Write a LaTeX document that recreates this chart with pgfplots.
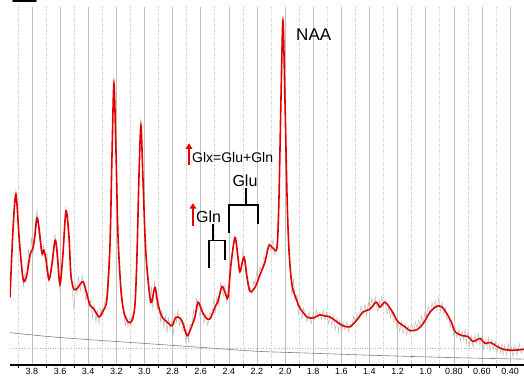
\documentclass[border=0pt]{standalone}
\usepackage{pgfplots}
\pgfplotsset{compat=1.18}
\usepackage{fontspec}
\setmainfont{Liberation Sans}
\usetikzlibrary{calc,arrows.meta}
\definecolor{specred}{RGB}{228,0,0}
\begin{document}
\begin{tikzpicture}
\begin{axis}[
  scale only axis, width=514pt, height=358pt,
  x dir=reverse, xmin=0.301, xmax=3.956, ymin=0, ymax=365,
  axis x line*=bottom, axis y line=none,
  xtick={0.4,0.6,0.8,1.0,1.2,1.4,1.6,1.8,2.0,2.2,2.4,2.6,2.8,3.0,3.2,3.4,3.6,3.8},
  xticklabels={0.40,0.60,0.80,1.0,1.2,1.4,1.6,1.8,2.0,2.2,2.4,2.6,2.8,3.0,3.2,3.4,3.6,3.8},
  minor xtick={0.5,0.7,0.9,1.1,1.3,1.5,1.7,1.9,2.1,2.3,2.5,2.7,2.9,3.1,3.3,3.5,3.7,3.9},
  xmajorgrids, xminorgrids,
  major grid style={gray!50, line width=0.6pt},
  minor grid style={gray!45, dotted, line width=0.6pt},
  ticklabel style={font=\fontsize{9}{10}\selectfont},
  /pgf/number format/assume math mode=true,
  tick style={black, line width=0.6pt}, tick align=outside,
  major tick length=0pt, minor tick length=2.5pt,
  axis line style={black, line width=1.2pt},
]
\coordinate (SW) at (rel axis cs:0,0);
\coordinate (NE) at (rel axis cs:1,1);
\addplot[gray!60, dotted, line width=0.6pt] coordinates {(0.301,17) (3.956,17)};
\addplot[gray, line width=0.6pt, smooth] coordinates {
(3.956,33) (3.6,28) (3.0,22) (2.6,18) (2.2,14) (1.8,12) (1.4,10) (0.8,7.5) (0.301,6)};
% raw spectrum
\addplot[gray!55, line width=0.45pt] coordinates {
(3.956,72) (3.946,104) (3.935,140) (3.925,165) (3.914,178) (3.903,160) (3.892,125) (3.881,108)
(3.871,100) (3.860,80) (3.850,95) (3.836,86) (3.825,118) (3.814,104) (3.803,130) (3.793,112)
(3.779,142) (3.764,158) (3.750,132) (3.740,122) (3.729,110) (3.718,122) (3.705,106) (3.693,114)
(3.679,86) (3.668,96) (3.658,108) (3.647,118) (3.636,134) (3.625,112) (3.612,104) (3.601,76)
(3.590,100) (3.580,108) (3.569,138) (3.558,162) (3.547,145) (3.537,126) (3.523,98) (3.512,74)
(3.501,56) (3.490,82) (3.480,72) (3.470,90) (3.455,76) (3.443,92) (3.430,80) (3.418,66)
(3.405,74) (3.395,58) (3.384,66) (3.370,48) (3.359,62) (3.345,44) (3.333,56) (3.323,42)
(3.310,58) (3.295,50) (3.283,64) (3.270,70) (3.260,92) (3.245,124) (3.231,212) (3.217,292)
(3.203,222) (3.188,132) (3.175,92) (3.167,72) (3.155,60) (3.146,50) (3.135,40) (3.125,50)
(3.117,38) (3.105,48) (3.095,40) (3.089,52) (3.078,46) (3.067,66) (3.053,112) (3.039,192)
(3.025,252) (3.011,192) (2.996,128) (2.982,92) (2.970,76) (2.960,60) (2.950,80) (2.940,56)
(2.930,86) (2.920,70) (2.910,56) (2.898,66) (2.886,44) (2.875,56) (2.862,38) (2.850,50)
(2.840,32) (2.828,48) (2.818,36) (2.804,46) (2.795,30) (2.783,52) (2.772,44) (2.762,56)
(2.750,40) (2.740,48) (2.728,34) (2.716,42) (2.706,22) (2.698,36) (2.686,24) (2.676,42)
(2.665,38) (2.652,56) (2.641,44) (2.630,68) (2.619,60) (2.605,50) (2.591,60) (2.578,42)
(2.565,52) (2.550,40) (2.534,54) (2.520,50) (2.508,66) (2.495,54) (2.485,70) (2.470,60)
(2.460,84) (2.449,76) (2.436,70) (2.427,82) (2.415,64) (2.406,74) (2.395,90) (2.385,104)
(2.370,122) (2.356,130) (2.345,118) (2.335,104) (2.321,100) (2.310,96) (2.300,118) (2.292,110)
(2.280,94) (2.271,86) (2.260,76) (2.249,80) (2.235,72) (2.222,86) (2.214,82) (2.200,96)
(2.190,88) (2.178,100) (2.165,96) (2.150,112) (2.143,102) (2.130,118) (2.114,124) (2.100,116)
(2.086,128) (2.072,112) (2.057,126) (2.043,172) (2.029,272) (2.015,356) (2.001,272) (1.986,172)
(1.972,112) (1.962,98) (1.951,70) (1.940,88) (1.930,66) (1.915,72) (1.905,52) (1.894,62)
(1.880,46) (1.870,58) (1.856,52) (1.844,44) (1.830,54) (1.815,42) (1.801,52) (1.790,46)
(1.776,56) (1.764,48) (1.752,54) (1.740,46) (1.728,56) (1.716,46) (1.705,54) (1.690,42)
(1.681,52) (1.668,40) (1.655,50) (1.643,36) (1.631,48) (1.620,34) (1.610,46) (1.598,32)
(1.588,44) (1.575,36) (1.560,44) (1.548,34) (1.538,42) (1.525,38) (1.512,50) (1.500,44)
(1.489,52) (1.476,46) (1.460,60) (1.446,52) (1.432,62) (1.420,50) (1.408,64) (1.396,56)
(1.383,68) (1.370,60) (1.360,70) (1.353,62) (1.340,54) (1.330,66) (1.325,58) (1.312,70)
(1.300,60) (1.289,66) (1.275,52) (1.262,58) (1.250,48) (1.240,56) (1.228,44) (1.215,50)
(1.205,38) (1.197,46) (1.185,34) (1.172,44) (1.160,32) (1.147,42) (1.135,30) (1.125,40)
(1.112,32) (1.100,42) (1.085,34) (1.074,44) (1.062,38) (1.050,46) (1.040,40) (1.030,50)
(1.019,42) (1.005,54) (0.995,50) (0.982,60) (0.969,52) (0.955,64) (0.945,58) (0.932,66)
(0.920,56) (0.908,68) (0.896,54) (0.884,64) (0.872,52) (0.860,58) (0.848,46) (0.836,50)
(0.826,38) (0.813,46) (0.802,30) (0.791,38) (0.778,28) (0.765,36) (0.754,24) (0.742,34)
(0.730,26) (0.720,36) (0.710,22) (0.699,34) (0.688,20) (0.675,30) (0.663,18) (0.650,30)
(0.638,22) (0.625,32) (0.614,20) (0.600,30) (0.590,16) (0.578,26) (0.565,18) (0.555,28)
(0.542,14) (0.530,26) (0.518,16) (0.505,24) (0.493,12) (0.480,22) (0.468,12) (0.458,22)
(0.450,10) (0.438,20) (0.425,10) (0.412,22) (0.400,12) (0.390,18) (0.379,8) (0.365,20)
(0.350,10) (0.335,22) (0.320,12) (0.301,18)};
% fitted spectrum
\addplot[specred, line width=1.6pt, smooth, tension=0.5] coordinates {
(3.956,69) (3.935,137) (3.914,174) (3.892,132) (3.871,97) (3.857,85) (3.836,92) (3.814,112)
(3.793,119) (3.779,132) (3.764,150) (3.750,140) (3.729,114) (3.715,117) (3.700,107) (3.679,87)
(3.658,102) (3.636,127) (3.622,117) (3.601,82) (3.580,112) (3.558,157) (3.537,132) (3.523,92)
(3.501,77) (3.473,79) (3.437,85) (3.409,72) (3.387,61) (3.359,57) (3.323,49) (3.295,55)
(3.267,67) (3.245,122) (3.231,212) (3.217,287) (3.203,222) (3.188,132) (3.167,77) (3.146,54)
(3.117,44) (3.089,45) (3.067,62) (3.053,112) (3.039,192) (3.025,244) (3.011,192) (2.996,132)
(2.982,99) (2.954,64) (2.925,79) (2.904,62) (2.875,49) (2.840,44) (2.804,40) (2.783,47)
(2.762,49) (2.733,45) (2.698,30) (2.676,35) (2.641,49) (2.619,64) (2.591,55) (2.562,48)
(2.534,47) (2.498,59) (2.477,65) (2.449,80) (2.427,74) (2.406,69) (2.385,102) (2.356,130)
(2.335,110) (2.321,95) (2.292,110) (2.271,90) (2.249,75) (2.214,79) (2.178,92) (2.143,105)
(2.114,122) (2.086,119) (2.057,120) (2.043,172) (2.029,272) (2.015,351) (2.001,272) (1.986,172)
(1.972,117) (1.951,82) (1.915,65) (1.894,58) (1.844,49) (1.801,48) (1.752,51) (1.716,50)
(1.681,49) (1.631,44) (1.588,40) (1.538,39) (1.489,46) (1.446,54) (1.396,57) (1.353,64)
(1.325,59) (1.289,64) (1.240,55) (1.197,44) (1.147,39) (1.112,35) (1.062,36) (1.019,42)
(0.969,54) (0.920,60) (0.884,59) (0.848,52) (0.813,42) (0.791,34) (0.742,30) (0.699,29)
(0.663,24) (0.614,27) (0.578,22) (0.542,23) (0.493,19) (0.450,16) (0.379,15) (0.301,16)};
% annotations
\node[anchor=west, inner sep=0pt, font=\fontsize{17}{17}\selectfont] at (axis cs:1.922,337) {NAA};
\draw[specred, line width=2.2pt, -{Triangle[length=5.5pt,width=6.5pt]}] (axis cs:2.683,204) -- (axis cs:2.683,226);
\node[anchor=west, inner sep=0pt, font=\fontsize{14}{14}\selectfont] at (axis cs:2.662,212) {Glx=Glu+Gln};
\node[inner sep=0pt, font=\fontsize{16}{16}\selectfont] at (axis cs:2.285,188) {Glu};
\draw[specred, line width=2.2pt, -{Triangle[length=5.5pt,width=6.5pt]}] (axis cs:2.655,142) -- (axis cs:2.655,165);
\node[anchor=west, inner sep=0pt, font=\fontsize{16}{16}\selectfont] at (axis cs:2.634,151) {Gln};
\draw[line width=1.3pt] (axis cs:2.399,135) -- (axis cs:2.399,163) -- (axis cs:2.193,163) -- (axis cs:2.193,144);
\draw[line width=1.3pt] (axis cs:2.278,163) -- (axis cs:2.278,180);
\draw[line width=1.3pt] (axis cs:2.541,99) -- (axis cs:2.541,127) -- (axis cs:2.427,127) -- (axis cs:2.427,107);
\draw[line width=1.3pt] (axis cs:2.513,127) -- (axis cs:2.513,144);
\end{axis}
\draw[line width=1.8pt, line cap=round] ($(SW)+(3pt,364pt)$) -- ($(SW)+(26pt,364pt)$);
\pgfresetboundingbox
\path[use as bounding box] ($(SW)+(-10pt,-15pt)$) rectangle ($(NE)+(0pt,7pt)$);
\end{tikzpicture}
\end{document}
